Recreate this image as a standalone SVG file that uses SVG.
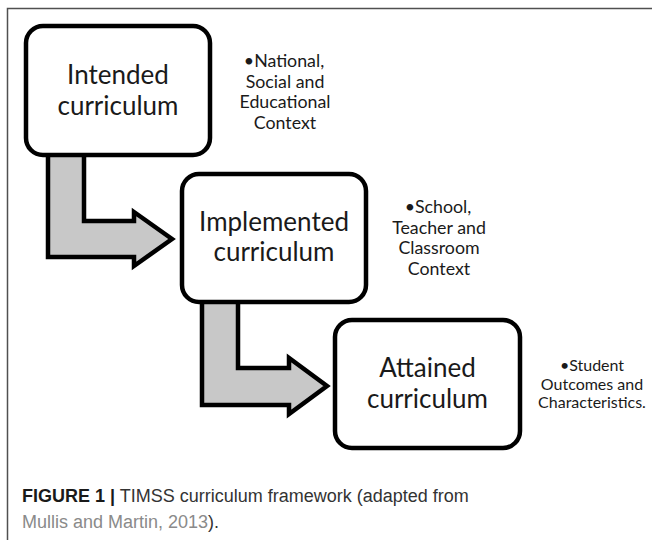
<svg xmlns="http://www.w3.org/2000/svg" width="652" height="540" viewBox="0 0 652 540">
<style>
.box{fill:#fff;stroke:#000;stroke-width:4.5}
.arrow{fill:#c8c8c8;stroke:#000;stroke-width:4.5;stroke-linejoin:miter;stroke-miterlimit:10}
.title{font-family:Lato,"Open Sans","Liberation Sans",sans-serif;font-size:26px;text-anchor:middle;fill:#1a1a1a}
.note{font-family:Lato,"Open Sans","Liberation Sans",sans-serif;font-size:17.8px;text-anchor:middle;fill:#1a1a1a}
.note3{font-size:16px}
.cap{font-family:"Liberation Sans",Arial,sans-serif;font-size:18px;fill:#333}
</style>
<rect x="0" y="0" width="652" height="540" fill="#fff"/>
<path d="M7.5,540 V8.5 H652" fill="none" stroke="#505050" stroke-width="1.5"/>
<g id="connectors">
<path class="arrow" d="M48,150 L84,150 L84,221 L134,221 L134,212 L172,239 L134,266 L134,257 L48,257 Z"/>
<path class="arrow" d="M202,298 L238,298 L238,368 L289,368 L289,358 L327,386 L289,414 L289,405 L202,405 Z"/>
</g>
<g id="intended">
<rect class="box" x="26" y="26" width="184" height="129" rx="17"/>
<text class="title" x="118" y="84">Intended</text>
<text class="title" x="118" y="115">curriculum</text>
</g>
<g id="intended-note">
<text class="note" x="284" y="67">•National,</text>
<text class="note" x="285" y="87.5">Social and</text>
<text class="note" x="285" y="108">Educational</text>
<text class="note" x="285" y="128.5">Context</text>
</g>
<g id="implemented">
<rect class="box" x="182" y="174" width="184" height="128" rx="17"/>
<text class="title" x="274" y="231">Implemented</text>
<text class="title" x="274" y="261">curriculum</text>
</g>
<g id="implemented-note">
<text class="note" x="438" y="213">•School,</text>
<text class="note" x="439" y="233.5">Teacher and</text>
<text class="note" x="439" y="254">Classroom</text>
<text class="note" x="439" y="274.5">Context</text>
</g>
<g id="attained">
<rect class="box" x="335" y="320" width="185" height="128" rx="17"/>
<text class="title" x="427.5" y="377">Attained</text>
<text class="title" x="427.5" y="408">curriculum</text>
</g>
<g id="attained-note">
<text class="note note3" x="592" y="371">•Student</text>
<text class="note note3" x="592" y="389.5">Outcomes and</text>
<text class="note note3" x="592" y="408">Characteristics.</text>
</g>
<g id="caption">
<text class="cap" x="22" y="502"><tspan font-weight="bold" fill="#1a1a1a">FIGURE 1 |</tspan> TIMSS curriculum framework (adapted from</text>
<text class="cap" x="22" y="528"><tspan fill="#8a8a8a">Mullis and Martin, 2013</tspan>).</text>
</g>
</svg>
